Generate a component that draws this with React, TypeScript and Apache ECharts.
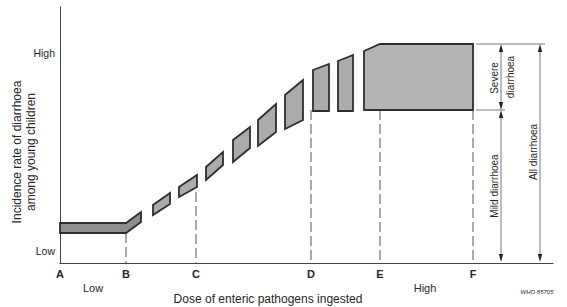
import React, { useEffect, useRef } from "react";
import * as echarts from "echarts";

// Axis ticks
const xTickLabels = ["A", "B", "C", "D", "E", "F"];
const xTickValues = [0, 66, 136, 251, 320, 413];
const yTickLabels = ["Low", "High"];
const yTickValues = [12, 210];

// Low-dose band (A to B, then bending up)
const bandX = [0, 66, 81];
const bandTop = [40, 40, 51];
const bandBottom = [30, 30, 41];

// Intermediate steps (parallelograms)
const stepStart = [93, 119, 146, 173, 198, 225, 253, 278];
const stepEnd = [110, 137, 163, 190, 216, 243, 269, 293];
const stepTopStart = [58, 76, 96, 123, 143, 168, 193, 202];
const stepTopEnd = [70, 88, 111, 136, 159, 183, 199, 208];
const stepBottomStart = [48, 66, 83, 101, 117, 134, 152, 152];
const stepBottomEnd = [59, 76, 98, 115, 131, 143, 152, 152];

// High-dose plateau
const plateauX = [304, 320, 413];
const plateauTop = [212, 219, 219];
const plateauBottom = 153;

// Dashed guides (x, top)
const guideX = [66, 136, 251, 320, 413];
const guideTop = [30, 71, 153, 153, 153];

// Levels for annotations
const severeLevel = 219;
const mildLevel = 153;
const baseLevel = 1;

type Pt = [number, number];
const polygons: { pts: Pt[]; kind: string }[] = [];
polygons.push({
  kind: "band",
  pts: [
    [bandX[0], bandBottom[0]],
    [bandX[0], bandTop[0]],
    [bandX[1], bandTop[1]],
    [bandX[2], bandTop[2]],
    [bandX[2], bandBottom[2]],
    [bandX[1], bandBottom[1]],
  ],
});
stepStart.forEach((s, i) => {
  polygons.push({
    kind: "step",
    pts: [
      [s, stepBottomStart[i]],
      [s, stepTopStart[i]],
      [stepEnd[i], stepTopEnd[i]],
      [stepEnd[i], stepBottomEnd[i]],
    ],
  });
});
polygons.push({
  kind: "plateau",
  pts: [
    [plateauX[0], plateauBottom],
    [plateauX[0], plateauTop[0]],
    [plateauX[1], plateauTop[1]],
    [plateauX[2], plateauTop[2]],
    [plateauX[2], plateauBottom],
  ],
});

const FONT = "'Liberation Sans', Arial, sans-serif";
const INK = "#262626";

function arrowHead(x: number, y: number, dir: number) {
  return {
    type: "polygon",
    shape: { points: [[x, y], [x - 2.2, y + dir * 8], [x + 2.2, y + dir * 8]] },
    style: { fill: INK },
  };
}

export default function App() {
  const ref = useRef<HTMLDivElement>(null);
  useEffect(() => {
    if (!ref.current) return;
    const chart = echarts.init(ref.current, null, { renderer: "svg" });
    const option: any = {
      animation: false,
      grid: { left: 60, right: 14, top: 7, bottom: 44, outerBoundsMode: "none" },
      xAxis: {
        type: "value",
        min: 0,
        max: 493,
        axisLine: { show: true, lineStyle: { color: "#444", width: 1 } },
        axisTick: { show: false },
        splitLine: { show: false },
        axisLabel: {
          customValues: xTickValues,
          formatter: (v: number) => xTickLabels[xTickValues.indexOf(v)] ?? "",
          margin: 5,
          fontSize: 11,
          fontWeight: "bold",
          color: INK,
          fontFamily: FONT,
        },
      },
      yAxis: {
        type: "value",
        min: 0,
        max: 256,
        axisLine: { show: true, lineStyle: { color: "#444", width: 1 } },
        axisTick: { show: false },
        splitLine: { show: false },
        axisLabel: {
          customValues: yTickValues,
          formatter: (v: number) => yTickLabels[yTickValues.indexOf(v)] ?? "",
          margin: 5,
          fontSize: 10.5,
          color: INK,
          fontFamily: FONT,
        },
      },
      series: [
        {
          type: "custom",
          clip: false,
          silent: true,
          data: guideX.map((x, i) => [i]),
          renderItem: (params: any, api: any) => {
            const i = api.value(0);
            const p0 = api.coord([guideX[i], guideTop[i]]);
            const p1 = api.coord([guideX[i], 0]);
            return {
              type: "line",
              shape: { x1: p0[0], y1: p0[1], x2: p1[0], y2: p1[1] },
              style: { stroke: "#555", lineWidth: 1, lineDash: [10, 4] },
            };
          },
        },
        {
          type: "custom",
          clip: false,
          silent: true,
          data: polygons.map((p, i) => [i]),
          renderItem: (params: any, api: any) => {
            const poly = polygons[api.value(0)];
            const pts = poly.pts.map((p) => api.coord(p));
            const fill =
              poly.kind === "band" ? "#8e8e8e" : poly.kind === "plateau" ? "#b4b4b4" : "#ababab";
            return {
              type: "polygon",
              shape: { points: pts },
              style: { fill, stroke: "#2e2e2e", lineWidth: 1.8, lineJoin: "miter" },
            };
          },
        },
        {
          type: "custom",
          clip: false,
          silent: true,
          data: [[0]],
          renderItem: (params: any, api: any) => {
            const top = api.coord([0, severeLevel])[1];
            const mid = api.coord([0, mildLevel])[1];
            const bot = api.coord([0, baseLevel])[1];
            const fx = api.coord([plateauX[2], 0])[0];
            const ax1 = fx + 28;
            const ax2 = fx + 67;
            const line = (x1: number, y1: number, x2: number, y2: number) => ({
              type: "line",
              shape: { x1, y1, x2, y2 },
              style: { stroke: "#555", lineWidth: 0.8 },
            });
            const txt = (text: string, x: number, y: number) => ({
              type: "text",
              x,
              y,
              rotation: Math.PI / 2,
              style: {
                text,
                fontSize: 10,
                fontFamily: FONT,
                fill: INK,
                align: "center",
                verticalAlign: "middle",
              },
            });
            return {
              type: "group",
              children: [
                line(fx + 3, top, fx + 72, top),
                line(fx + 3, mid, fx + 32, mid),
                line(ax1, top + 6, ax1, mid - 6),
                line(ax1, mid + 6, ax1, bot - 6),
                line(ax2, top + 6, ax2, bot - 6),
                arrowHead(ax1, top, 1),
                arrowHead(ax1, mid, -1),
                arrowHead(ax1, mid, 1),
                arrowHead(ax1, bot, -1),
                arrowHead(ax2, top, 1),
                arrowHead(ax2, bot, -1),
                txt("Severe", ax1 - 7, (top + mid) / 2 + 1),
                txt("diarrhoea", ax1 + 9, (top + mid) / 2),
                txt("Mild diarrhoea", ax1 - 7, 186),
                txt("All diarrhoea", ax2 - 7, 152),
              ],
            };
          },
        },
      ],
      graphic: [
        {
          type: "text",
          x: 24,
          y: 152,
          rotation: Math.PI / 2,
          style: {
            text: "Incidence rate of diarrhoea\namong young children",
            fontSize: 12,
            lineHeight: 14,
            fontFamily: FONT,
            fill: INK,
            align: "center",
            verticalAlign: "middle",
          },
        },
        {
          type: "text",
          x: 93,
          y: 288,
          style: { text: "Low", fontSize: 11, fontFamily: FONT, fill: INK, align: "center", verticalAlign: "middle" },
        },
        {
          type: "text",
          x: 425,
          y: 288,
          style: { text: "High", fontSize: 11, fontFamily: FONT, fill: INK, align: "center", verticalAlign: "middle" },
        },
        {
          type: "text",
          x: 268,
          y: 299,
          style: {
            text: "Dose of enteric pathogens ingested",
            fontSize: 12,
            fontFamily: FONT,
            fill: INK,
            align: "center",
            verticalAlign: "middle",
          },
        },
        {
          type: "text",
          x: 537,
          y: 292,
          style: {
            text: "WHO 85705",
            fontSize: 6,
            fontStyle: "italic",
            fontFamily: FONT,
            fill: INK,
            align: "center",
            verticalAlign: "middle",
          },
        },
      ],
    };
    chart.setOption(option);
    return () => chart.dispose();
  }, []);
  return (
    <div
      ref={ref}
      style={{ position: "absolute", left: 0, top: 0, width: 567, height: 307, background: "#fff" }}
    />
  );
}
